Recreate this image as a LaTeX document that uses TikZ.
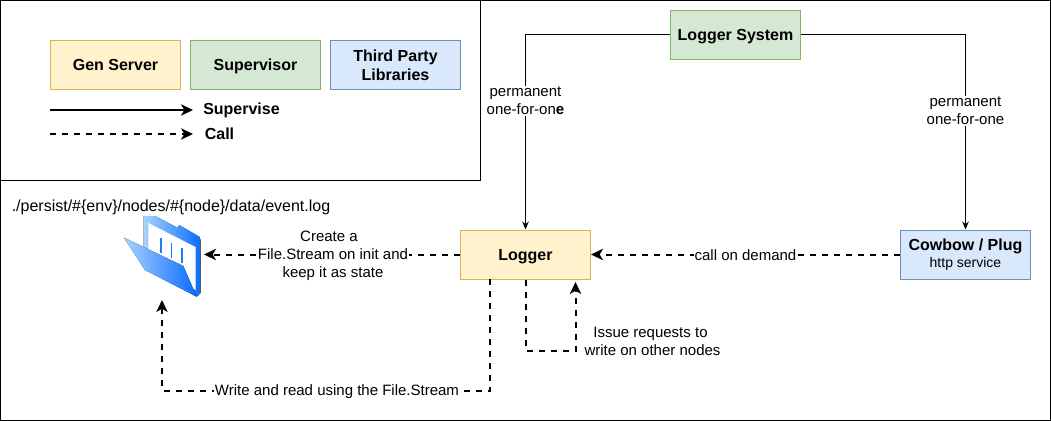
\documentclass[tikz,border=0pt]{standalone}
\usepackage{fontspec}
\setmainfont{Liberation Sans}
\usetikzlibrary{arrows.meta}
\definecolor{yfill}{HTML}{FFF2CC}\definecolor{ydraw}{HTML}{D6B656}
\definecolor{gfill}{HTML}{D5E8D4}\definecolor{gdraw}{HTML}{82B366}
\definecolor{bfill}{HTML}{DAE8FC}\definecolor{bdraw}{HTML}{6C8EBF}
\definecolor{flight}{HTML}{A8D2FF}\definecolor{fdark}{HTML}{0A6CFF}
\tikzset{
 box/.style={draw,line width=0.75pt,minimum width=97.5pt,minimum height=36.75pt,inner sep=0pt,align=center,font=\fontsize{12}{14.25}\selectfont\bfseries},
 ybox/.style={box,fill=yfill,draw=ydraw},
 gbox/.style={box,fill=gfill,draw=gdraw},
 bbox/.style={box,fill=bfill,draw=bdraw},
 oneline/.style={text height=8.3pt,text depth=0pt},
 sup/.style={line width=0.75pt,-{Stealth[length=6pt,width=5pt]}},
 callline/.style={line width=1.5pt,dash pattern=on 4.5pt off 4.5pt,-{Stealth[length=9pt,width=8.5pt,inset=2.5pt]}},
 legsup/.style={line width=1.5pt,-{Stealth[length=9pt,width=8.5pt,inset=2.5pt]}},
 txt/.style={inner sep=1pt,align=center,font=\fontsize{11.25}{13.5}\selectfont},
 lab/.style={txt,fill=white},
 btxt/.style={inner sep=0pt,font=\fontsize{12}{14}\selectfont\bfseries},
 frame/.style={draw=black,line width=0.75pt}
}
\begin{document}
\begin{tikzpicture}[x=0.75pt,y=-0.75pt]
\useasboundingbox (0,0) rectangle (1051,421);
\fill[white] (0,0) rectangle (1051,421);
\draw[frame] (0.5,0.5) rectangle (1050.5,420.5);
\draw[frame] (0.5,0.5) rectangle (480.5,180.5);
% legend
\node[ybox,oneline] (gen) at (115.5,65) {Gen Server};
\node[gbox,oneline] (svr) at (255.5,65) {Supervisor};
\node[bbox] (tpl) at (395.5,65) {Third Party\\Libraries};
\coordinate (l1a) at (50,110); \coordinate (l1b) at (193,110);
\coordinate (l2a) at (50,134); \coordinate (l2b) at (193,134);
\draw[legsup] (l1a) -- (l1b);
\draw[callline] (l2a) -- (l2b);
\node[btxt] (tsup) at (241.5,110) {Supervise};
\node[btxt] (tcall) at (219.5,134) {Call};
% main nodes
\node[gbox,oneline] (lsys) at (735.5,34.5) {Logger System};
\node[ybox,oneline] (logger) at (525.5,254.5) {Logger};
\node[bbox,font=\fontsize{12}{14.25}\selectfont] (cow) at (965.5,254.5) {\raisebox{-1pt}{\textbf{Cowbow / Plug}}\\[0pt]{\fontsize{10.5}{13}\selectfont\mdseries http service}};
\node[txt,font=\fontsize{12}{14}\selectfont] (path) at (171,207) {./persist/\#\{env\}/nodes/\#\{node\}/data/event.log};
% folder
\coordinate (folder) at (162,256);
\fill[left color=flight,right color=fdark] (143.7,216) -- (155,216) -- (178,228) -- (179,225) -- (199.3,236.7) -- (200.7,240) -- (200.7,293) -- (196.7,296.7) -- (143.7,262) -- cycle;
\fill[white] (148.3,223) -- (195.5,247) -- (195.5,290) -- (148.3,262) -- cycle;
\draw[fdark!85!flight,line width=1.1pt] (161,238.3) -- (161,253.3) (171.3,243.3) -- (171.3,258.3) (182,248.3) -- (182,263.3);
\fill[left color=flight,right color=fdark] (124,237.7) -- (183.3,266) -- (196.7,296.7) -- (145,270) -- cycle;
\coordinate (fright) at (204,254.5);
\coordinate (fbot) at (162,300);
% supervise connectors
\draw[sup] (lsys.west) -| (logger.north);
\draw[sup] (lsys.east) -| (cow.north);
\node[lab] (l1) at (525.5,101) {permanent\\one-for-on\textbf{e}};
\node[lab] (l2) at (965.5,111) {permanent\\one-for-one};
% call connectors
\draw[callline] (cow.west) -- (logger.east);
\draw[callline] (logger.west) -- (fright);
\coordinate (ls1) at (490,279);
\coordinate (ls2) at (490,390.5);
\coordinate (ls3) at (525.5,350.5);
\coordinate (ls4) at (575.5,350.5);
\coordinate (ls5) at (575.5,282);
\draw[callline] (ls1) -- (ls2) -| (fbot);
\draw[callline] (logger.south) -- (ls3) -- (ls4) -- (ls5);
\node[lab,inner sep=0.5pt] (c1) at (745.5,255.5) {call on demand};
\node[lab,inner sep=0.5pt] (c2) at (333,256) {Create a\hspace*{6pt}\\File.Stream on init and\\keep it as state};
\node[lab,inner sep=0.5pt] (c3) at (337,391.5) {Write and read using the File.Stream};
\node[txt] (c4) at (652.5,341.5) {Issue requests to\hspace*{3pt}\\write on other nodes};
\end{tikzpicture}
\end{document}
